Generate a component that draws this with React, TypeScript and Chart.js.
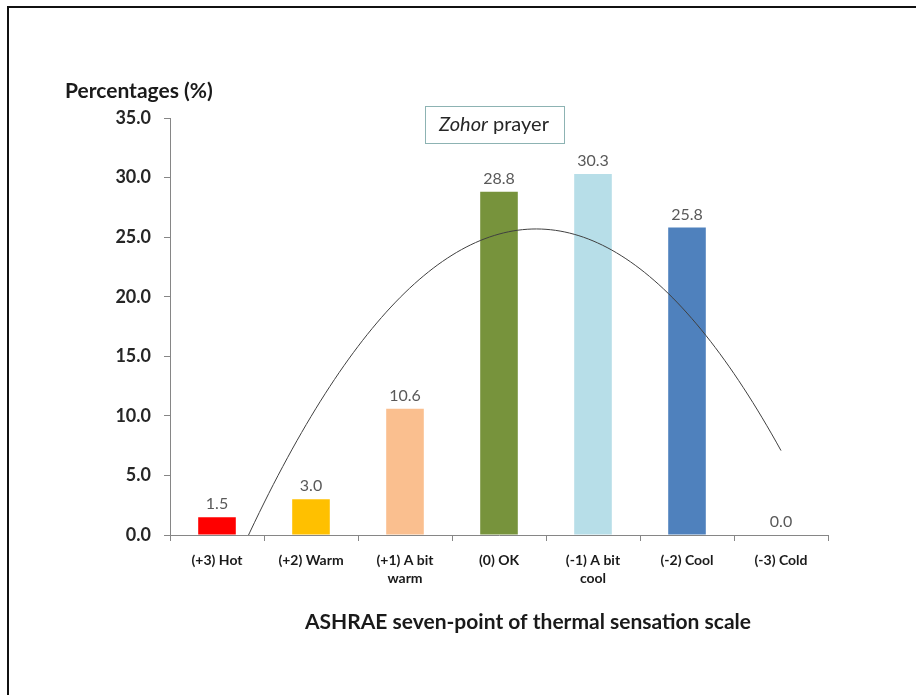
import React, { useEffect, useRef } from "react";
import { Chart, registerables } from "chart.js";

Chart.register(...registerables);

const categories: string[][] = [
  ["(+3) Hot"],
  ["(+2) Warm"],
  ["(+1) A bit", "warm"],
  ["(0) OK"],
  ["(-1) A bit", "cool"],
  ["(-2) Cool"],
  ["(-3) Cold"],
];
const percentages: number[] = [1.5, 3.0, 10.6, 28.8, 30.3, 25.8, 0.0];
const barColors: string[] = ["#FF0000", "#FFC000", "#FABF8F", "#77933C", "#B7DEE8", "#4F81BD", "#8064A2"];
const yTicks: number[] = [0, 5, 10, 15, 20, 25, 30, 35];
const yTitle = "Percentages (%)";
const xTitle = "ASHRAE seven-point of thermal sensation scale";

const FONT = "Lato, 'Open Sans', sans-serif";

// Excel-style 2nd-order polynomial trendline, least squares fit of the bar values
function quadFit(ys: number[]) {
  const xs = ys.map((_, i) => i + 1);
  let s0 = 0, s1 = 0, s2 = 0, s3 = 0, s4 = 0, t0 = 0, t1 = 0, t2 = 0;
  xs.forEach((x, i) => {
    const y = ys[i];
    s0 += 1; s1 += x; s2 += x * x; s3 += x ** 3; s4 += x ** 4;
    t0 += y; t1 += x * y; t2 += x * x * y;
  });
  const M = [
    [s0, s1, s2, t0],
    [s1, s2, s3, t1],
    [s2, s3, s4, t2],
  ];
  for (let c = 0; c < 3; c++) {
    for (let r = c + 1; r < 3; r++) {
      const f = M[r][c] / M[c][c];
      for (let k = c; k < 4; k++) M[r][k] -= f * M[c][k];
    }
  }
  const coef = [0, 0, 0];
  for (let r = 2; r >= 0; r--) {
    let v = M[r][3];
    for (let k = r + 1; k < 3; k++) v -= M[r][k] * coef[k];
    coef[r] = v / M[r][r];
  }
  return (x: number) => coef[0] + coef[1] * x + coef[2] * x * x;
}

export default function App() {
  const ref = useRef<HTMLCanvasElement | null>(null);

  useEffect(() => {
    if (!ref.current) return;
    const f = quadFit(percentages);
    const trend: { x: number; y: number }[] = [];
    for (let k = 0; k <= 120; k++) {
      const x = 1 + (k * (percentages.length - 1)) / 120;
      trend.push({ x, y: f(x) });
    }

    const labelPlugin = {
      id: "extras",
      afterDatasetsDraw(chart: any) {
        const ctx = chart.ctx;
        const meta = chart.getDatasetMeta(0);
        ctx.save();
        ctx.fillStyle = "#595959";
        ctx.font = `16px ${FONT}`;
        ctx.textAlign = "center";
        ctx.textBaseline = "bottom";
        meta.data.forEach((bar: any, i: number) => {
          ctx.fillText(percentages[i].toFixed(1), bar.x, bar.y - 5);
        });
        ctx.restore();
      },
      afterDraw(chart: any) {
        const ctx = chart.ctx;
        ctx.save();
        ctx.fillStyle = "#1a1a1a";
        ctx.font = `bold 21px ${FONT}`;
        ctx.textAlign = "left";
        ctx.textBaseline = "middle";
        ctx.fillText(yTitle, 65, 91);
        ctx.textAlign = "center";
        ctx.font = `bold 21px ${FONT}`;
        ctx.fillText(xTitle, 528, 622);
        // Zohor prayer box
        ctx.strokeStyle = "#8DB3B3";
        ctx.lineWidth = 1;
        ctx.strokeRect(425.5, 106.5, 139, 37);
        ctx.fillStyle = "#262626";
        ctx.textAlign = "left";
        ctx.font = `italic 20px ${FONT}`;
        const w1 = ctx.measureText("Zohor").width;
        ctx.font = `20px ${FONT}`;
        const w2 = ctx.measureText(" prayer").width;
        const sx = 494 - (w1 + w2) / 2;
        ctx.font = `italic 20px ${FONT}`;
        ctx.fillText("Zohor", sx, 125);
        ctx.font = `20px ${FONT}`;
        ctx.fillText(" prayer", sx + w1, 125);
        ctx.restore();
      },
    };

    const chart = new Chart(ref.current, {
      type: "bar",
      data: {
        labels: categories,
        datasets: [
          {
            type: "bar",
            data: percentages,
            backgroundColor: barColors,
            barPercentage: 0.4,
            categoryPercentage: 1.0,
            grouped: false,
            order: 2,
          } as any,
          {
            type: "line",
            data: trend,
            xAxisID: "xLine",
            borderColor: "#404040",
            borderWidth: 1,
            pointRadius: 0,
            tension: 0,
            fill: false,
            order: 1,
          } as any,
        ],
      },
      options: {
        animation: false,
        responsive: false,
        devicePixelRatio: 1,
        layout: { padding: { left: 100, right: 88, top: 118, bottom: 100 } },
        plugins: { legend: { display: false }, tooltip: { enabled: false } },
        scales: {
          x: {
            type: "category",
            offset: true,
            grid: {
              offset: true,
              drawOnChartArea: false,
              drawTicks: true,
              tickLength: 6,
              color: "#868686",
            },
            border: { display: true, color: "#868686", width: 1 },
            ticks: {
              color: "#1a1a1a",
              font: { family: FONT, size: 14, weight: "bold", lineHeight: 1.25 },
              padding: 11,
              maxRotation: 0,
              autoSkip: false,
            },
            afterFit: (s: any) => {
              s.height = 60;
            },
          },
          xLine: {
            type: "linear",
            display: false,
            offset: false,
            min: 0.5,
            max: 7.5,
            grid: { offset: false },
          },
          y: {
            type: "linear",
            min: 0,
            max: 35,
            afterBuildTicks: (s: any) => {
              s.ticks = yTicks.map((v) => ({ value: v }));
            },
            grid: {
              drawOnChartArea: false,
              drawTicks: true,
              tickLength: 6,
              color: "#868686",
            },
            border: { display: true, color: "#868686", width: 1 },
            ticks: {
              color: "#262626",
              font: { family: FONT, size: 18, weight: "bold" },
              padding: 13,
              callback: (v: any) => Number(v).toFixed(1),
            },
            afterFit: (s: any) => {
              s.width = 70;
            },
          },
        },
      } as any,
      plugins: [labelPlugin],
    });
    return () => chart.destroy();
  }, []);

  return (
    <div style={{ position: "absolute", left: 0, top: 0, width: 916, height: 695, overflow: "hidden", background: "#fff" }}>
      <div
        style={{
          position: "absolute",
          left: 7,
          top: 6,
          width: 909,
          height: 689,
          borderTop: "2px solid #111",
          borderLeft: "2px solid #111",
          boxSizing: "border-box",
        }}
      />
      <canvas ref={ref} width={916} height={695} style={{ position: "absolute", left: 0, top: 0 }} />
    </div>
  );
}
